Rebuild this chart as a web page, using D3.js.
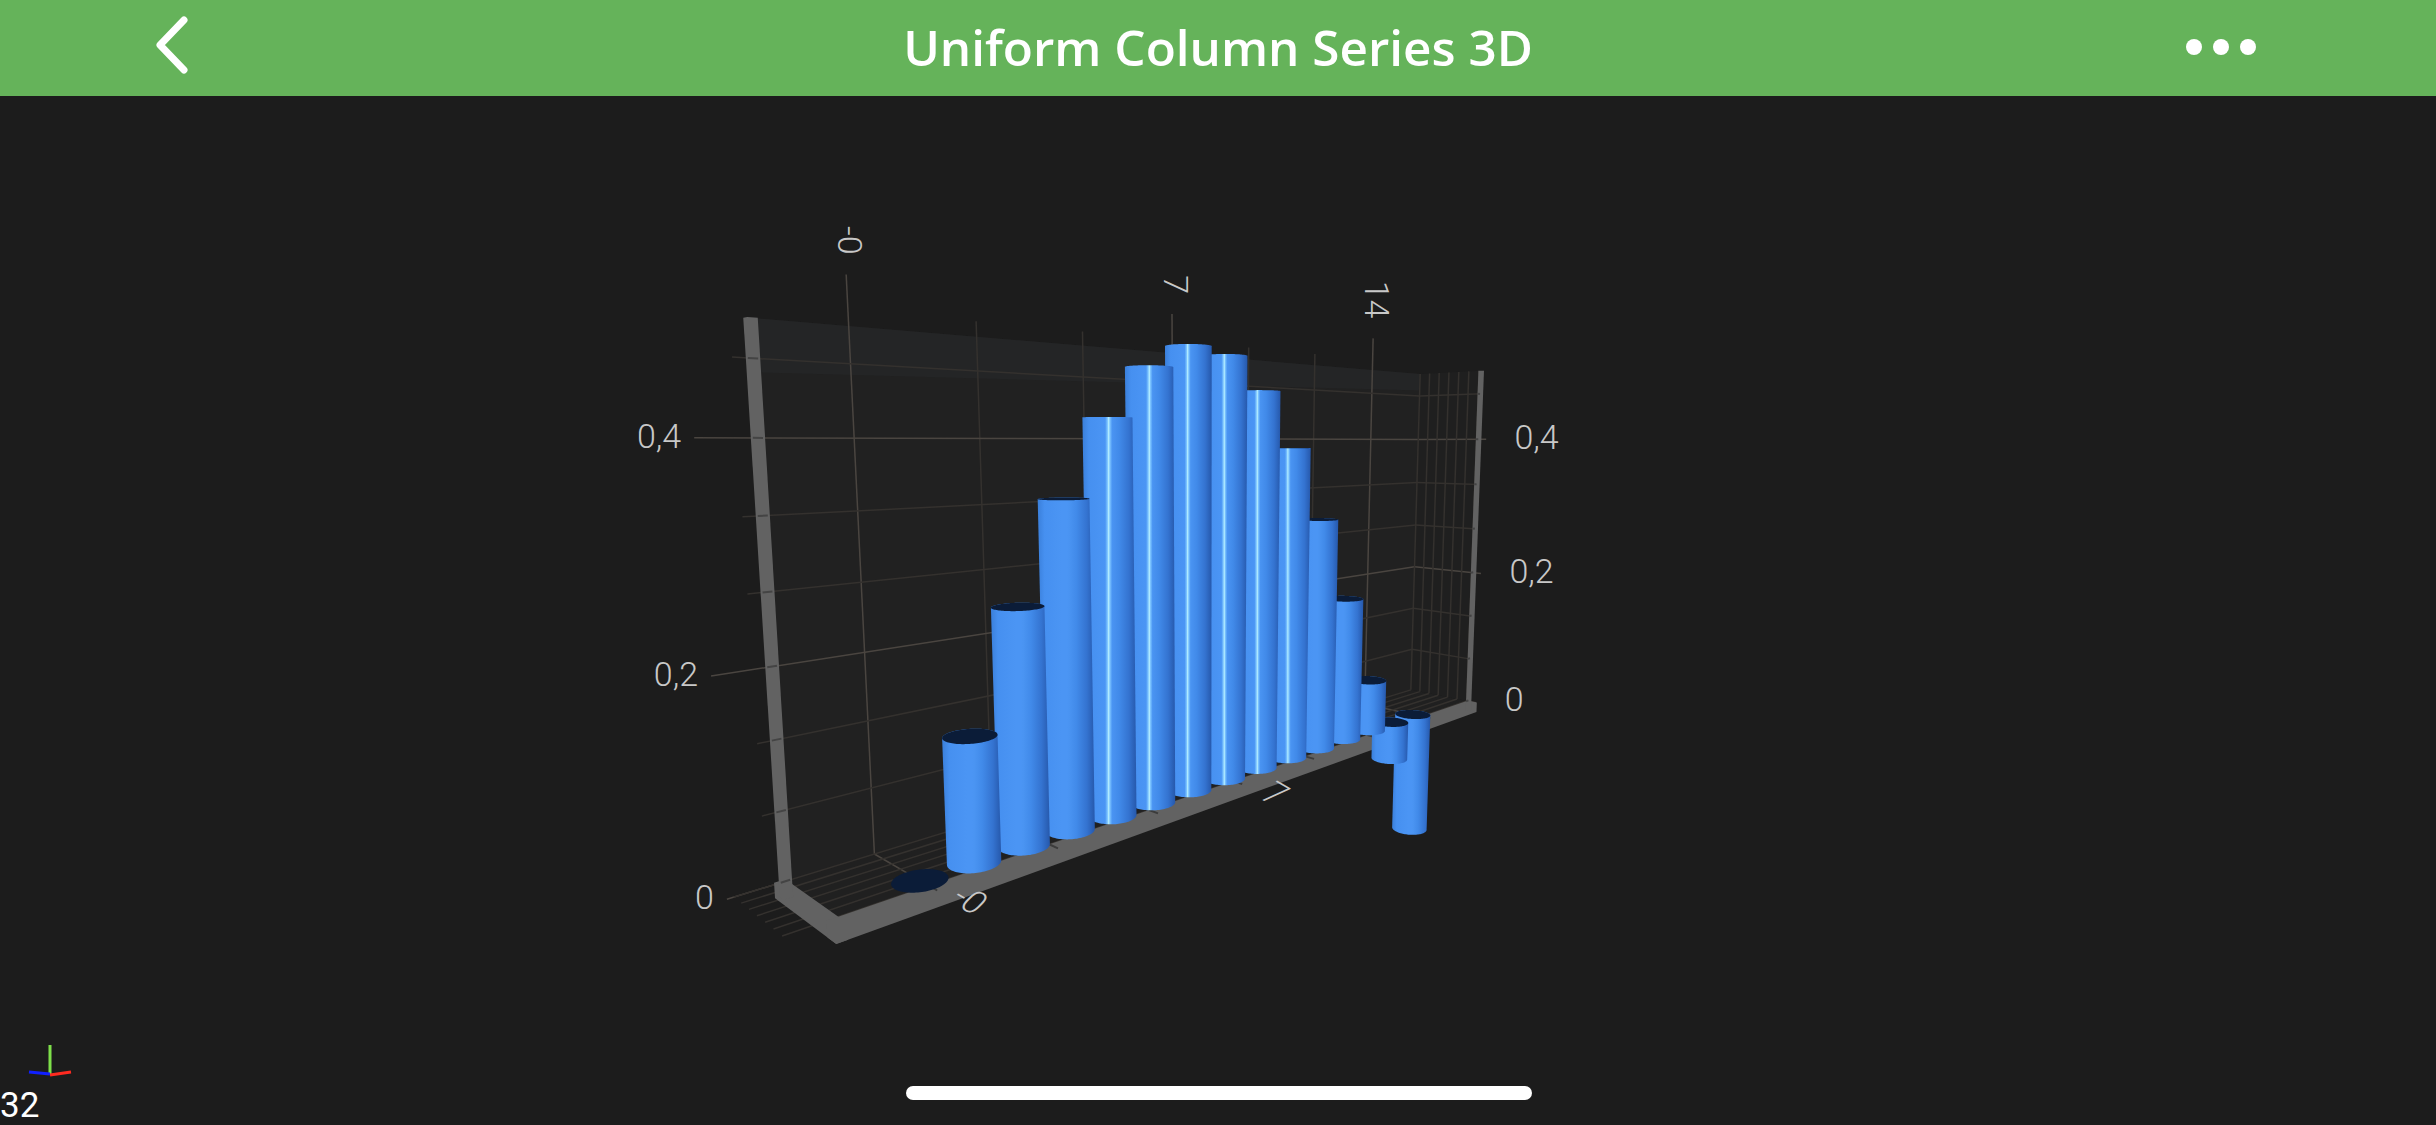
<!DOCTYPE html>
<html><head><meta charset="utf-8">
<script src="https://cdn.jsdelivr.net/npm/d3@7"></script>
<style>html,body{margin:0;padding:0;background:#1c1c1c;overflow:hidden}</style>
</head><body><svg id="c" width="2436" height="1125"></svg>
<script>
// ---------- data ----------
const xValues = [0,1,2,3,4,5,6,7,8,9,10,11,12,13,14];
const yValues = [0, 0.124, 0.240, 0.341, 0.421, 0.474, 0.499, 0.492, 0.455, 0.389, 0.299, 0.191, 0.071, -0.054, -0.175];
const yTickValues = [0, 0.2, 0.4];
const yTickLabels = ["0","0,2","0,4"];
const topXTickValues = [0, 7, 14];
const topXTickLabels = ["-0","7","14"];
const bottomXTickValues = [0, 7];
const bottomXTickLabels = ["-0","7"];
const title = "Uniform Column Series 3D";
const fpsText = "32";

// ---------- axes ranges & camera ----------
const xDomain = [-1.51612, 16.18718];
const yDomain = [0, 0.5];
const zDomain = [-3.75641, 0.66750];
const camera = {pos:[-7.73593, 6.91668, -14.03951], yaw:0.79101, pitch:-0.14315, focal:1018.25250, center:[1205.58925, 588.13416]};
const worldY = 17.42042, worldZ = 0.39867;

function cross(a,b){return [a[1]*b[2]-a[2]*b[1],a[2]*b[0]-a[0]*b[2],a[0]*b[1]-a[1]*b[0]];}
function dot(a,b){return a[0]*b[0]+a[1]*b[1]+a[2]*b[2];}
const Fv=[Math.sin(camera.yaw)*Math.cos(camera.pitch),Math.sin(camera.pitch),Math.cos(camera.yaw)*Math.cos(camera.pitch)];
const Rv=[Math.cos(camera.yaw),0,-Math.sin(camera.yaw)];
const Uv=cross(Fv,Rv);
function projW(X,Y,Z){const d=[X-camera.pos[0],Y-camera.pos[1],Z-camera.pos[2]];const df=dot(d,Fv);
  return [camera.center[0]+camera.focal*dot(d,Rv)/df, camera.center[1]-camera.focal*dot(d,Uv)/df, df];}

const xW=d3.scaleLinear().domain(xDomain).range(xDomain);
const yW=d3.scaleLinear().domain(yDomain).range([0,yDomain[1]*worldY]);
const zW=d3.scaleLinear().domain([0,1]).range([0,-worldZ]);
const proj=(x,y,z)=>projW(xW(x),yW(y),zW(z));
const XMIN=xDomain[0], XMAX=xDomain[1], YMAX=yDomain[1], ZB=zDomain[0], ZF=zDomain[1];

const svg=d3.select("#c");
const defs=svg.append("defs");
svg.append("rect").attr("width",2436).attr("height",1125).attr("fill","#1c1c1c");
const g=svg.append("g");
const line=d3.line();
const P2=(q)=>{const r=proj(...q);return [r[0],r[1]];};
function seg(a,b,col,w){g.append("path").attr("d",line([P2(a),P2(b)])).attr("stroke",col).attr("stroke-width",w).attr("fill","none");}
function poly(pts,fill){g.append("path").attr("d",line(pts.map(P2))+"Z").attr("fill",fill);}
function cuboid(x0,x1,y0,y1,z0,z1,fill){
  const pts=[];for(const X of [x0,x1])for(const Y of [y0,y1])for(const Z of [z0,z1]){const r=projW(X,Y,Z);pts.push([r[0],r[1]]);}
  g.append("path").attr("d","M"+d3.polygonHull(pts).join("L")+"Z").attr("fill",fill);
}

// ---------- planes ----------
poly([[XMIN,0,ZB],[XMAX,0,ZB],[XMAX,YMAX,ZB],[XMIN,YMAX,ZB]],"#212121");
poly([[XMAX,0,ZB],[XMAX,0,ZF],[XMAX,YMAX,ZF],[XMAX,YMAX,ZB]],"#1f1f1f");
poly([[XMIN,0,ZB],[XMAX,0,ZB],[XMAX,0,ZF],[XMIN,0,ZF]],"#202020");
poly([[XMIN,YMAX,ZB],[XMAX,YMAX,ZB],[XMAX,0.475,ZB],[XMIN,0.455,ZB]],"#242526");

// ---------- grid ----------
const xMinor=d3.range(0,14.01,7/3), yMinor=d3.range(1,8).map(i=>i*0.2/3), zMinor=d3.range(0,7).map(i=>ZB+(ZF-ZB)*i/6);
const isMajX=x=>topXTickValues.some(t=>Math.abs(t-x)<1e-6);
const isMajY=y=>yTickValues.some(t=>Math.abs(t-y)<1e-6);
const cMaj="#4a4540", cMin="#34312e";
for(const x of xMinor){const c=isMajX(x)?cMaj:cMin;
  seg([x,0,ZB],[x,YMAX+(isMajX(x)?0.045:0.015),ZB],c,1.5);seg([x,0,ZB],[x,0,ZF],c,1.5);}
for(const y of yMinor){const c=isMajY(y)?cMaj:cMin;
  seg([XMIN-(isMajY(y)?0.9:0.3),y,ZB],[XMAX,y,ZB],c,1.5);seg([XMAX,y,ZB],[XMAX,y,ZF+(isMajY(y)?0.7:0.3)],c,1.5);}
seg([XMIN-0.9,0,ZB],[XMIN,0,ZB],cMaj,1.5);
seg([XMAX,0,ZF],[XMAX,0,ZF+0.7],cMaj,1.5);
for(const z of zMinor){seg([XMIN-0.8,0,z],[XMAX,0,z],cMin,1.5);seg([XMAX,0,z],[XMAX,YMAX,z],cMin,1.5);}

// ---------- borders ----------
const bw=0.15, bt=0.26, fw=0.28, grey="#626262";
const Zb=zW(ZB), Zf=zW(ZF), Xa=xW(XMIN), Xb=xW(XMAX), Yt=yW(YMAX);
cuboid(Xa-bw,Xa+bw*0.2,-bt,0,Zf-fw,Zb+bw*0.5,grey);          // floor left border
cuboid(Xa-bw,Xb+bw*0.3,-bt,0,Zf-fw,Zf,grey);                 // floor front border
cuboid(Xa-bw*0.5,Xa+bw*0.5,-bt,Yt,Zb-bw*0.5,Zb+bw*0.5,grey); // left vertical
cuboid(Xb-bw*0.2,Xb+bw*0.6,-bt,Yt,Zf-bw*0.6,Zf,grey);        // right vertical
for(const x of xMinor){const a=projW(xW(x),0.001,Zf),b=projW(xW(x),0.001,Zf-fw*0.9);
  g.append("path").attr("d",line([[a[0],a[1]],[b[0],b[1]]])).attr("stroke","#3c3c3c").attr("stroke-width",2);}
for(const y of yMinor.concat([0])){
  const a=projW(Xa-bw*0.5,yW(y),Zb),b=projW(Xa+bw*0.5,yW(y),Zb);
  g.append("path").attr("d",line([[a[0],a[1]],[b[0],b[1]]])).attr("stroke","#444").attr("stroke-width",2);
  const c=projW(Xb-bw*0.2,yW(y),Zf),d=projW(Xb+bw*0.6,yW(y),Zf);
  g.append("path").attr("d",line([[c[0],c[1]],[d[0],d[1]]])).attr("stroke","#444").attr("stroke-width",2);
}

// ---------- labels ----------
const lab=svg.append("g").attr("font-family","Roboto, 'Open Sans', sans-serif").attr("font-weight",300).attr("fill","#c8c8c8").attr("font-size",34);
yTickValues.forEach((v,i)=>{const p=proj(XMIN-0.9,v,ZB);
  lab.append("text").attr("x",p[0]-13).attr("y",p[1]-2).attr("text-anchor","end").attr("dominant-baseline","central").text(yTickLabels[i]);
  const q=proj(XMAX,v,ZF);
  lab.append("text").attr("x",q[0]+38).attr("y",q[1]-2).attr("text-anchor","start").attr("dominant-baseline","central").text(yTickLabels[i]);});
topXTickValues.forEach((v,i)=>{const p=proj(v,YMAX+0.045,ZB);
  lab.append("text").attr("transform",`translate(${p[0]+4},${p[1]-20}) rotate(90)`).attr("text-anchor","end").attr("dominant-baseline","central").text(topXTickLabels[i]);});
bottomXTickValues.forEach((v,i)=>{const p=proj(v,0,ZF+0.55);
  lab.append("text").attr("transform",`translate(${p[0]+34},${p[1]+10}) rotate(30) skewX(-15)`).attr("text-anchor","middle").attr("dominant-baseline","central").text(bottomXTickLabels[i]);});

// ---------- columns ----------
const radius=0.44;
const bars=xValues.map((x,i)=>({x,v:yValues[i],d:proj(x,0,0)[2]})).sort((a,b)=>b.d-a.d);
bars.forEach((b,k)=>{
  const y0=Math.min(0,b.v),y1=Math.max(0,b.v);const N=96;const bot=[],top=[];
  const cx=xW(b.x), cz=zW(0);
  for(let i=0;i<N;i++){const a=2*Math.PI*i/N;const X=cx+radius*Math.cos(a),Z=cz+radius*Math.sin(a);
    const p0=projW(X,yW(y0),Z),p1=projW(X,yW(y1),Z);bot.push([p0[0],p0[1]]);top.push([p1[0],p1[1]]);}
  if(y1-y0>1e-9){
    const hull=d3.polygonHull(bot.concat(top));
    const xl=d3.min(hull,p=>p[0]), xr=d3.max(hull,p=>p[0]);
    const hl=Math.max(0,Math.min(1,(b.v-0.35)/0.04));
    const id="gb"+k;
    const gr=defs.append("linearGradient").attr("id",id).attr("gradientUnits","userSpaceOnUse").attr("x1",xl).attr("x2",xr).attr("y1",0).attr("y2",0);
    const base="#4b95f4";
    [[0,"#3a7fda"],[0.12,"#4690f0"],[0.42,base],[0.462,d3.interpolateRgb(base,"#7cc4ff")(hl)],[0.485,d3.interpolateRgb(base,"#b8f0ff")(hl)],
     [0.508,d3.interpolateRgb(base,"#7cc4ff")(hl)],[0.55,"#4a94f2"],[0.68,"#418ae9"],[0.86,"#3473d0"],[1,"#2658ab"]]
      .forEach(s=>gr.append("stop").attr("offset",s[0]).attr("stop-color",s[1]));
    g.append("path").attr("d","M"+hull.join("L")+"Z").attr("fill",`url(#${id})`);
  }
  if(camera.pos[1]>yW(y1)) g.append("path").attr("d","M"+top.join("L")+"Z").attr("fill","#0b1c38");
});

// ---------- header ----------
svg.append("rect").attr("width",2436).attr("height",96).attr("fill","#65b35a");
const tt=svg.append("text").attr("x",1218).attr("y",46).attr("text-anchor","middle").attr("dominant-baseline","central")
  .attr("font-family","'Open Sans', Roboto, sans-serif").attr("font-weight",600).attr("font-size",48).attr("fill","#ffffff").text(title);
const tw=tt.node().getComputedTextLength(); if(tw>0) tt.attr("font-size",48*630/tw);
svg.append("path").attr("d","M184,20 L160,45 L184,70").attr("stroke","#fff").attr("stroke-width",7).attr("fill","none").attr("stroke-linecap","round").attr("stroke-linejoin","round");
[2194,2221,2248].forEach(x=>svg.append("circle").attr("cx",x).attr("cy",47).attr("r",8).attr("fill","#fff"));

// ---------- overlays ----------
svg.append("line").attr("x1",50).attr("y1",1074).attr("x2",50).attr("y2",1045).attr("stroke","#7ee04a").attr("stroke-width",3);
svg.append("line").attr("x1",50).attr("y1",1074).attr("x2",29).attr("y2",1072).attr("stroke","#1020ff").attr("stroke-width",3);
svg.append("line").attr("x1",50).attr("y1",1075).attr("x2",71).attr("y2",1072).attr("stroke","#ff2a20").attr("stroke-width",3);
svg.append("text").attr("x",0).attr("y",1117).attr("font-family","Roboto, sans-serif").attr("font-size",35).attr("fill","#ffffff").text(fpsText);
svg.append("rect").attr("x",906).attr("y",1086).attr("width",626).attr("height",14).attr("rx",7).attr("fill","#ffffff");
</script></body></html>
